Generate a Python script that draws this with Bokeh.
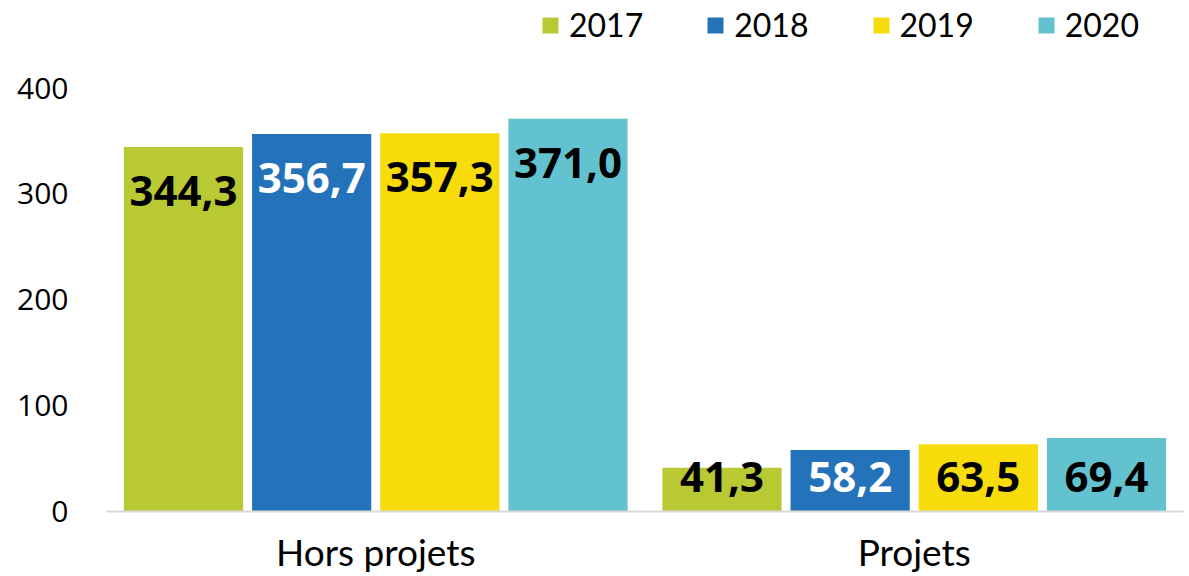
from bokeh.plotting import figure
from bokeh.models import (ColumnDataSource, FactorRange, Range1d, Legend, LegendItem,
                          FixedTicker)
from bokeh.transform import dodge
from bokeh.core.properties import value
from bokeh.embed import file_html
from bokeh.resources import INLINE

# ---- data ----
categories = ["Hors projets", "Projets"]
years = ["2017", "2018", "2019", "2020"]
v2017 = [344.3, 41.3]
v2018 = [356.7, 58.2]
v2019 = [357.3, 63.5]
v2020 = [371.0, 69.4]
y_ticks = [0, 100, 200, 300, 400]

series = [v2017, v2018, v2019, v2020]

# ---- style ----
COLORS = ["#b8c934", "#2472b9", "#f8db0b", "#63c2cf"]
LABEL_COLORS = ["#000000", "#ffffff", "#000000", "#000000"]
OFFSETS = [-0.357, -0.119, 0.119, 0.357]
BAR_W = 0.2214
LABEL_INSET = 41.4   # data units below the bar top
LABEL_FLOOR = 33.0   # minimum label centre height
Y_END = 482.8        # leaves room above 400 for the legend inside the frame

def fmt(v):
    return f"{v:.1f}".replace(".", ",")

data = {"cat": categories}
for yr, vals in zip(years, series):
    data["v" + yr] = vals
    data["lbl" + yr] = [fmt(v) for v in vals]
    data["ly" + yr] = [max(v - LABEL_INSET, LABEL_FLOOR) for v in vals]
source = ColumnDataSource(data)

p = figure(x_range=FactorRange(*categories), y_range=Range1d(0, Y_END),
           width=1189, height=576, output_backend="svg", toolbar_location=None,
           min_border_left=106, min_border_right=6, min_border_top=0,
           min_border_bottom=63)
p.outline_line_color = None
p.grid.grid_line_color = None
p.background_fill_color = "white"

items = []
for i, yr in enumerate(years):
    r = p.vbar(x=dodge("cat", OFFSETS[i], range=p.x_range), top="v" + yr,
               width=BAR_W, source=source, fill_color=COLORS[i],
               line_color=None)
    items.append(LegendItem(label=yr, renderers=[r]))
    p.text(x=dodge("cat", OFFSETS[i], range=p.x_range), y="ly" + yr,
           text="lbl" + yr, source=source, text_align="center",
           text_baseline="middle", text_font=value("Open Sans"),
           text_font_style="bold", text_font_size="42px",
           text_color=LABEL_COLORS[i])

# y axis
p.yaxis.ticker = FixedTicker(ticks=y_ticks)
p.yaxis.axis_line_color = None
p.yaxis.major_tick_line_color = None
p.yaxis.minor_tick_line_color = None
p.yaxis.major_label_text_font = "Open Sans"
p.yaxis.major_label_text_font_size = "30px"
p.yaxis.major_label_text_color = "#000000"
p.yaxis.major_label_standoff = 32

# x axis
p.xaxis.axis_line_color = "#d9d9d9"
p.xaxis.axis_line_width = 2
p.xaxis.major_tick_line_color = None
p.xaxis.minor_tick_line_color = None
p.xaxis.major_label_text_font = "Lato"
p.xaxis.major_label_text_font_size = "37px"
p.xaxis.major_label_text_color = "#000000"
p.xaxis.major_label_standoff = 11

legend = Legend(items=items, orientation="horizontal", location=(434, 467),
                glyph_width=20, glyph_height=20, label_standoff=9, spacing=62,
                padding=0, margin=0, border_line_color=None,
                background_fill_alpha=0, label_text_font="Lato",
                label_text_font_size="32px", label_text_color="#000000")
p.add_layout(legend, "center")

open("out.html", "w").write(file_html(p, INLINE))
